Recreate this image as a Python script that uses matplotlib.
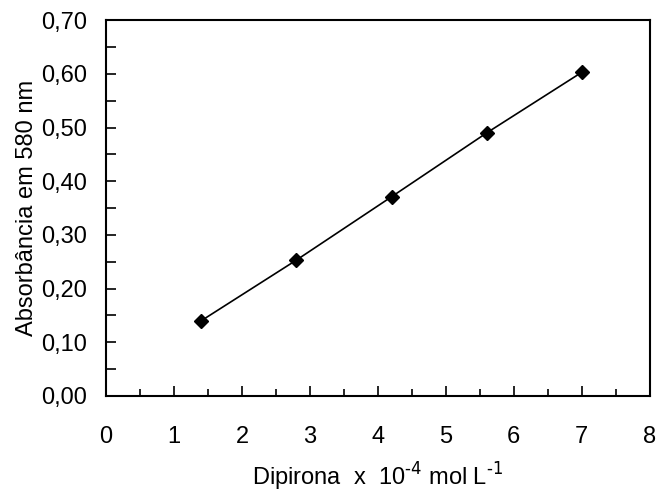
import matplotlib.pyplot as plt
from matplotlib.ticker import FuncFormatter, MultipleLocator

plt.rcParams["font.family"] = ["Liberation Sans", "DejaVu Sans"]

# dipirona concentration (x 10^-4 mol/L) and absorbance at 580 nm
conc = [1.4, 2.8, 4.2, 5.6, 7.0]
absorb = [0.140, 0.253, 0.371, 0.490, 0.603]

fig = plt.figure(figsize=(6.59, 4.93), dpi=100)
ax = fig.add_axes([0.161, 0.197, 0.825, 0.762])

ax.plot(conc, absorb, color="black", lw=1.2, marker="D", ms=7,
        markerfacecolor="black", markeredgecolor="black")

ax.set_xlim(0, 8)
ax.set_ylim(0, 0.70)
ax.xaxis.set_major_locator(MultipleLocator(1))
ax.xaxis.set_minor_locator(MultipleLocator(0.5))
ax.yaxis.set_major_locator(MultipleLocator(0.1))
ax.yaxis.set_minor_locator(MultipleLocator(0.05))
ax.yaxis.set_major_formatter(FuncFormatter(lambda v, p: f"{v:.2f}".replace(".", ",")))

ax.tick_params(which="both", direction="in", width=1.2, labelsize=17)
ax.tick_params(which="major", length=7)
ax.tick_params(which="minor", length=5)
ax.tick_params(axis="x", which="major", pad=22)
ax.tick_params(axis="y", which="major", pad=14)
ax.tick_params(axis="y", which="minor", length=7)
for s in ax.spines.values():
    s.set_linewidth(1.5)

ax.set_xlabel(r"Dipirona  x  10$^{\text{-4}}$ mol L$^{\text{-1}}$", fontsize=17, labelpad=9)
ax.set_ylabel("Absorbância em 580 nm", fontsize=17, labelpad=2)

fig.savefig("out.png", dpi=100)
